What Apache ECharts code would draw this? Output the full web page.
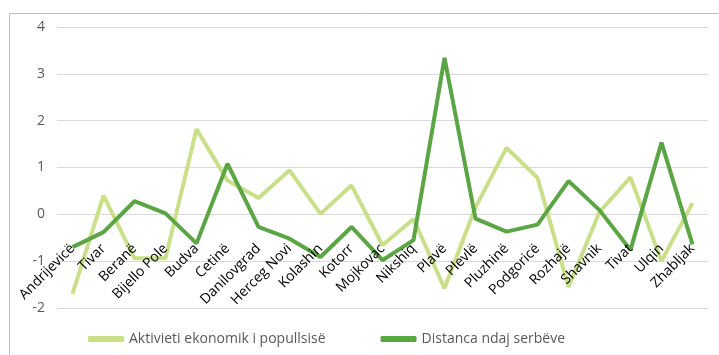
<!DOCTYPE html>
<html>
<head>
<meta charset="utf-8">
<script src="https://cdn.jsdelivr.net/npm/echarts@6/dist/echarts.min.js"></script>
<style>
  html, body { margin: 0; padding: 0; background: #fff; }
  #chart { width: 719px; height: 355px; }
</style>
</head>
<body>
<div id="chart"></div>
<script>
const municipalities = [
  'Andrijevicë', 'Tivar', 'Beranë', 'Bijello Pole', 'Budva', 'Cetinë',
  'Danilovgrad', 'Herceg Novi', 'Kolashin', 'Kotorr', 'Mojkovac', 'Nikshiq',
  'Plavë', 'Plevlë', 'Pluzhinë', 'Podgoricë', 'Rozhajë', 'Shavnik',
  'Tivat', 'Ulqin', 'Zhabljak'
]
const economicActivity = [
  -1.70, 0.40, -0.94, -0.94, 1.82, 0.72,
  0.35, 0.94, 0.01, 0.62, -0.66, -0.10,
  -1.58, 0.15, 1.42, 0.78, -1.55, 0.05,
  0.79, -1.00, 0.24
]
const distanceToSerbs = [
  -0.70, -0.38, 0.28, 0.02, -0.62, 1.08,
  -0.27, -0.52, -0.91, -0.27, -0.98, -0.55,
  3.34, -0.09, -0.37, -0.22, 0.71, 0.09,
  -0.76, 1.53, -0.64
]
const yTicks = { min: -2, max: 4, interval: 1 }

const lightGreen = '#cadf8a'
const darkGreen = '#5ba544'

const myChart = echarts.init(document.getElementById('chart'))

// the category labels hang just under the zero line, so lift the axis from the grid bottom
const gridTop = 27, gridBottom = 47, chartH = 355
const plotH = chartH - gridTop - gridBottom
const zeroLift = plotH * (0 - yTicks.min) / (yTicks.max - yTicks.min)
const labelDrop = 18

const option = {
  backgroundColor: '#fff',
  animation: false,
  textStyle: { fontFamily: 'Open Sans, sans-serif' },
  graphic: [
    {
      type: 'rect',
      left: 7,
      top: 11,
      shape: { width: 730, height: 360 },
      style: { fill: 'none', stroke: '#bfbfbf', lineWidth: 1 },
      silent: true
    }
  ],
  grid: { left: 57, right: 11, top: gridTop, bottom: gridBottom, outerBoundsMode: 'none', containLabel: false },
  legend: {
    left: 88,
    bottom: 9,
    padding: 0,
    itemWidth: 36,
    itemHeight: 6,
    itemGap: 55,
    icon: 'roundRect',
    textStyle: { color: '#595959', fontSize: 14, fontFamily: 'Open Sans, sans-serif' },
    data: ['Aktivieti ekonomik i popullsisë', 'Distanca ndaj serbëve']
  },
  xAxis: {
    type: 'category',
    data: municipalities,
    boundaryGap: true,
    offset: -(zeroLift - labelDrop),
    z: 5,
    axisLine: { show: false, onZero: false },
    axisTick: { show: false },
    axisLabel: {
      rotate: 45,
      interval: 0,
      margin: 14,
      padding: [8, 0, 0, 0],
      color: '#000',
      fontSize: 14,
      fontFamily: 'Open Sans, sans-serif'
    }
  },
  yAxis: {
    type: 'value',
    min: yTicks.min,
    max: yTicks.max,
    interval: yTicks.interval,
    axisLine: { show: false },
    axisTick: { show: false },
    axisLabel: { color: '#595959', fontSize: 14, margin: 12 },
    splitLine: { lineStyle: { color: '#d9d9d9' } }
  },
  series: [
    {
      name: 'Aktivieti ekonomik i popullsisë',
      type: 'line',
      data: economicActivity,
      symbol: 'none',
      itemStyle: { color: lightGreen },
      lineStyle: { color: lightGreen, width: 4 }
    },
    {
      name: 'Distanca ndaj serbëve',
      type: 'line',
      data: distanceToSerbs,
      symbol: 'none',
      itemStyle: { color: darkGreen },
      lineStyle: { color: darkGreen, width: 4 }
    }
  ]
}

myChart.setOption(option)
</script>
</body>
</html>
